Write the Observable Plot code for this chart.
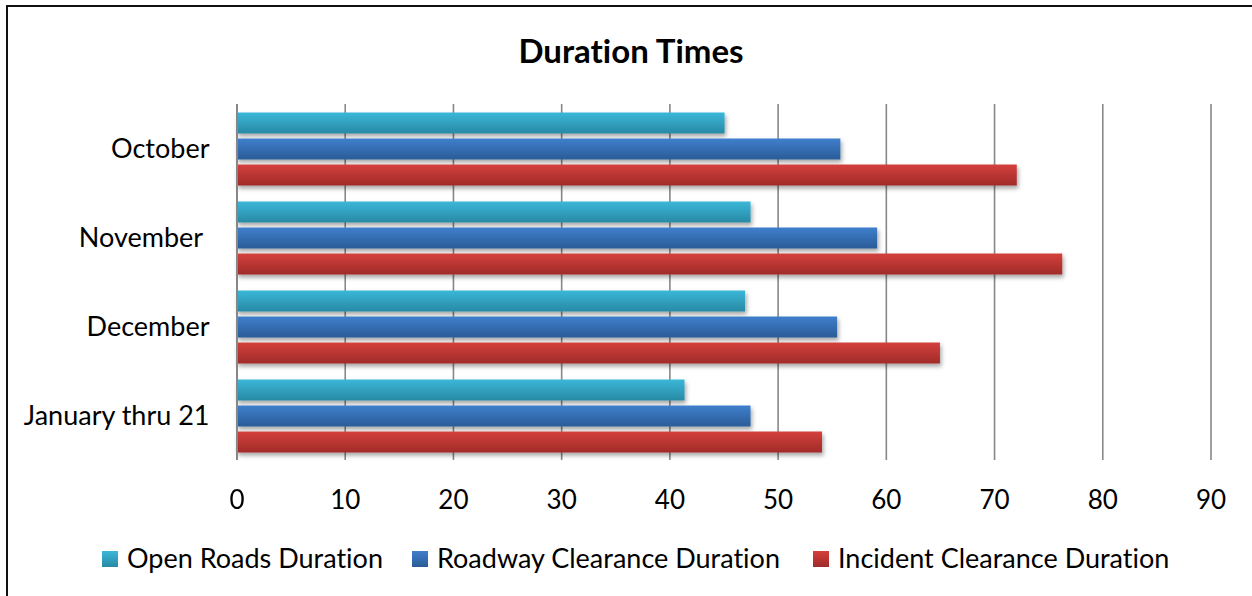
<!DOCTYPE html>
<html>
<head>
<meta charset="utf-8">
<script src="https://cdn.jsdelivr.net/npm/d3@7"></script>
<script src="https://cdn.jsdelivr.net/npm/@observablehq/plot@0.6"></script>
<style>
  html, body { margin: 0; padding: 0; background: #fff; }
  body { width: 1252px; height: 596px; overflow: hidden; position: relative; font-family: Lato, "Open Sans", sans-serif; font-variant-ligatures: none; }
  #frame { position: absolute; left: 6px; top: 5px; width: 1400px; height: 800px; border-left: 2px solid #111; border-top: 2px solid #111; box-sizing: border-box; }
  #title { position: absolute; left: 0; width: 1262px; top: 30px; text-align: center; font-weight: bold; font-size: 33px; color: #000; line-height: 40px; }
  #chart { position: absolute; left: 0; top: 0; }
  #chart svg text { white-space: pre; font-variant-ligatures: none; }
  .lg { position: absolute; top: 542px; height: 30px; display: flex; align-items: center; font-size: 27px; color: #000; white-space: nowrap; }
  .lg .sw { width: 16px; height: 16px; margin-right: 9px; margin-top: 3px; }
</style>
</head>
<body>
<div id="frame"></div>
<div id="title">Duration Times</div>
<div id="chart"></div>
<div id="legend"></div>
<script>
// ---- data ----
const months = ["October", "November ", "December", "January thru 21"];
const series = ["Open Roads Duration", "Roadway Clearance Duration", "Incident Clearance Duration"];
const openRoads = [45.1, 47.5, 47.0, 41.4];
const roadwayClearance = [55.8, 59.2, 55.5, 47.5];
const incidentClearance = [72.1, 76.3, 65.0, 54.1];
const xTicks = [0, 10, 20, 30, 40, 50, 60, 70, 80, 90];

// colours (top, bottom of vertical gradient)
const gradients = [
  {id: "gOpen", top: "#3bb7d8", bottom: "#2889a4"},
  {id: "gRoad", top: "#3f7fcc", bottom: "#2b5c98"},
  {id: "gInc",  top: "#d4403d", bottom: "#a02b29"}
];

const valuesBySeries = [openRoads, roadwayClearance, incidentClearance];
const rows = months.flatMap((m, i) => series.map((s, j) => ({month: m, series: s, value: valuesBySeries[j][i]})));

const svg = Plot.plot({
  width: 1252,
  height: 530,
  marginTop: 102.5,
  marginBottom: 68.3,
  marginLeft: 236.5,
  marginRight: 41.5,
  style: {fontFamily: "Lato, sans-serif", fontSize: "26px", color: "#000", background: "transparent"},
  x: {domain: [0, 90], ticks: xTicks, label: null},
  y: {domain: series, axis: null, paddingInner: 0.21, paddingOuter: 0.29},
  fy: {domain: months, padding: 0, label: null},
  color: {domain: series, range: gradients.map(g => `url(#${g.id})`)},
  marks: [
    Plot.gridX(xTicks, {stroke: "#878787", strokeOpacity: 1, strokeWidth: 1.6}),
    Plot.barX(rows, {x: "value", y: "series", fy: "month", fill: "series"}),
    Plot.ruleX([0], {stroke: "#878787", strokeWidth: 2}),
    Plot.axisX({ticks: xTicks, tickSize: 0, tickPadding: 30, line: true, stroke: "#878787", strokeWidth: 2, fill: "#000", fontSize: 26, label: null}),
    Plot.axisFy({anchor: "left", tickSize: 0, tickPadding: 27.5, fill: "#000", fontSize: 27, label: null})
  ]
});

// gradient + shadow defs
const defs = d3.select(svg).insert("defs", ":first-child");
for (const g of gradients) {
  const lg = defs.append("linearGradient").attr("id", g.id).attr("x1", 0).attr("y1", 0).attr("x2", 0).attr("y2", 1);
  lg.append("stop").attr("offset", "0%").attr("stop-color", g.top);
  lg.append("stop").attr("offset", "100%").attr("stop-color", g.bottom);
}
const f = defs.append("filter").attr("id", "shadow").attr("x", "-5%").attr("y", "-30%").attr("width", "115%").attr("height", "180%");
f.append("feDropShadow").attr("dx", 1.5).attr("dy", 3).attr("stdDeviation", 2).attr("flood-color", "#000").attr("flood-opacity", 0.35);
d3.select(svg).selectAll('g[aria-label="bar"]').attr("filter", "url(#shadow)");

document.getElementById("chart").appendChild(svg);

// legend
const legendLeft = [102, 412, 813];
const legend = document.getElementById("legend");
series.forEach((s, j) => {
  const item = document.createElement("div");
  item.className = "lg";
  item.style.left = legendLeft[j] + "px";
  const sw = document.createElement("span");
  sw.className = "sw";
  sw.style.background = `linear-gradient(${gradients[j].top}, ${gradients[j].bottom})`;
  const tx = document.createElement("span");
  tx.textContent = s;
  item.appendChild(sw);
  item.appendChild(tx);
  legend.appendChild(item);
});
</script>
</body>
</html>
